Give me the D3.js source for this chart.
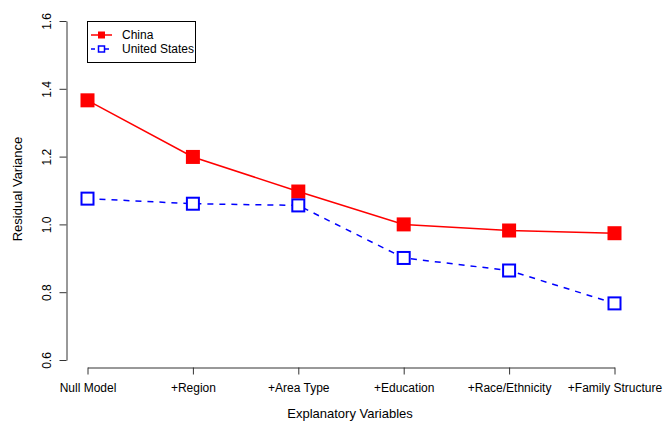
<!DOCTYPE html>
<html><head><meta charset="utf-8">
<script src="https://cdn.jsdelivr.net/npm/d3@7"></script>
<style>body{margin:0;background:#fff}svg{display:block;font-family:"Liberation Sans",Arial,sans-serif}</style>
</head><body>
<svg id="c" width="663" height="422"></svg>
<script>
const categories = ["Null Model","+Region","+Area Type","+Education","+Race/Ethnicity","+Family Structure"];
const china = [1.366, 1.199, 1.097, 1.000, 0.982, 0.974];
const us = [1.076, 1.061, 1.056, 0.901, 0.864, 0.767];
const yTicks = [0.6, 0.8, 1.0, 1.2, 1.4, 1.6];

const svg = d3.select("#c");
const x = d3.scalePoint().domain(categories).range([87.5, 614.5]);
const y = d3.scaleLinear().domain([0.6, 1.6]).range([360, 21]);
const axisColor = "#333";

// y axis
const ya = svg.append("g").attr("transform","translate(66.5,0)")
  .call(d3.axisLeft(y).tickValues(yTicks).tickFormat(d3.format(".1f")).tickSize(7).tickSizeOuter(0));
ya.select(".domain").attr("stroke",axisColor);
ya.selectAll(".tick line").attr("stroke",axisColor);
ya.selectAll(".tick text").attr("font-size",12).attr("fill","#000")
  .attr("transform","rotate(-90)").attr("x",0).attr("y",-16).attr("dy","0").attr("text-anchor","middle");

// x axis
const xa = svg.append("g").attr("transform","translate(0,367.5)")
  .call(d3.axisBottom(x).tickSize(7).tickSizeOuter(0));
xa.select(".domain").attr("stroke",axisColor);
xa.selectAll(".tick line").attr("stroke",axisColor);
xa.selectAll(".tick text").attr("font-size",12).attr("fill","#000").attr("y",16).attr("dy","0.71em");

// titles
svg.append("text").attr("x",350).attr("y",418).attr("text-anchor","middle").attr("font-size",13).text("Explanatory Variables");
svg.append("text").attr("transform","translate(22,189) rotate(-90)").attr("text-anchor","middle").attr("font-size",13).text("Residual Variance");

const line = d3.line().x((d,i)=>x(categories[i])).y(d=>y(d));
const ms = 14;

svg.append("path").datum(china).attr("d",line).attr("fill","none").attr("stroke","#ff0000").attr("stroke-width",1.5);
svg.append("path").datum(us).attr("d",line).attr("fill","none").attr("stroke","#0000ff").attr("stroke-width",1.5).attr("stroke-dasharray","6,6");

svg.selectAll(".cn").data(china).enter().append("rect")
  .attr("x",(d,i)=>x(categories[i])-ms/2).attr("y",d=>y(d)-ms/2).attr("width",ms).attr("height",ms).attr("fill","#ff0000");
const ums = 12;
svg.selectAll(".usm").data(us).enter().append("rect")
  .attr("x",(d,i)=>x(categories[i])-ums/2).attr("y",d=>y(d)-ums/2).attr("width",ums).attr("height",ums)
  .attr("fill","#fff").attr("stroke","#0000ff").attr("stroke-width",2);

// legend
const lg = svg.append("g");
lg.append("rect").attr("x",87.5).attr("y",21.5).attr("width",108).attr("height",41).attr("fill","#fff").attr("stroke","#000");
const items = [{name:"China", color:"#ff0000", filled:true, dash:null},{name:"United States", color:"#0000ff", filled:false, dash:"4,3"}];
items.forEach((it,i)=>{
  const cy = 35 + i*14;
  lg.append("line").attr("x1",91).attr("x2",112).attr("y1",cy).attr("y2",cy).attr("stroke",it.color).attr("stroke-width",1.5).attr("stroke-dasharray",it.dash);
  if(it.filled) lg.append("rect").attr("x",98).attr("y",cy-3.5).attr("width",7).attr("height",7).attr("fill",it.color);
  else lg.append("rect").attr("x",98.5).attr("y",cy-3).attr("width",6).attr("height",6).attr("fill","#fff").attr("stroke",it.color).attr("stroke-width",1.5);
  lg.append("text").attr("x",122).attr("y",cy+4).attr("font-size",12).text(it.name);
});
</script>
</body></html>
